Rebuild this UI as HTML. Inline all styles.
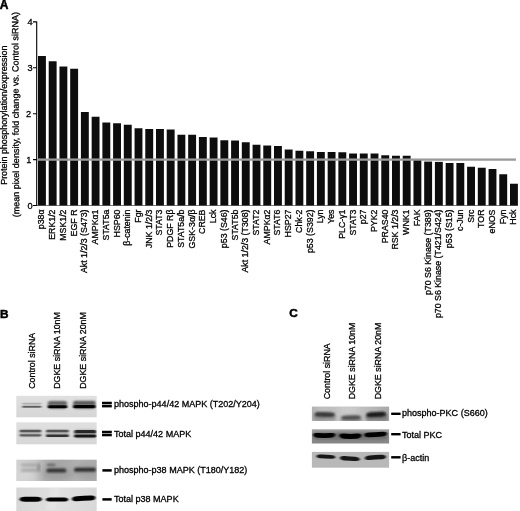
<!DOCTYPE html>
<html><head><meta charset="utf-8"><title>Figure</title>
<style>
html,body{margin:0;padding:0;background:#fff;}
body{width:520px;height:511px;overflow:hidden;position:relative;font-family:"Liberation Sans",sans-serif;}
svg{position:absolute;left:0;top:0;display:block;}
text{font-family:"Liberation Sans",sans-serif;fill:#000;stroke:#000;stroke-width:0.3px;}
.pl text{stroke-width:0.5px;}
</style></head><body>
<svg width="520" height="511" viewBox="0 0 520 511">
<defs>
<filter id="b1" x="-20%" y="-200%" width="140%" height="500%"><feGaussianBlur stdDeviation="1.1 0.7"/></filter>
<filter id="b2" x="-20%" y="-200%" width="140%" height="500%"><feGaussianBlur stdDeviation="1.3 0.85"/></filter>
<filter id="b3" x="-30%" y="-100%" width="160%" height="300%"><feGaussianBlur stdDeviation="4 3"/></filter>
<filter id="bt" x="-5%" y="-5%" width="110%" height="110%"><feGaussianBlur stdDeviation="0.35"/></filter>
<filter id="be" x="-3%" y="-8%" width="106%" height="116%"><feGaussianBlur stdDeviation="0.4"/></filter>
<linearGradient id="g1" x1="0" y1="0" x2="0" y2="1"><stop offset="0" stop-color="#e0e0e0"/><stop offset="1" stop-color="#d6d6d6"/></linearGradient>
<linearGradient id="g3" x1="0" y1="0" x2="1" y2="0"><stop offset="0" stop-color="#d2d2d2"/><stop offset="0.22" stop-color="#c8c8c8"/><stop offset="0.36" stop-color="#b2b2b2"/><stop offset="0.75" stop-color="#b6b6b6"/><stop offset="1" stop-color="#acacac"/></linearGradient>
<linearGradient id="g4" x1="0" y1="0" x2="1" y2="0"><stop offset="0" stop-color="#d6d6d6"/><stop offset="0.5" stop-color="#e0e0e0"/><stop offset="1" stop-color="#d8d8d8"/></linearGradient>
<linearGradient id="gc1" x1="0" y1="0" x2="1" y2="0"><stop offset="0" stop-color="#b0b0b0"/><stop offset="0.4" stop-color="#c6c6c6"/><stop offset="0.7" stop-color="#bcbcbc"/><stop offset="1" stop-color="#a8a8a8"/></linearGradient>
<filter id="b15" x="-20%" y="-200%" width="140%" height="500%"><feGaussianBlur stdDeviation="1.2 0.62"/></filter>
<linearGradient id="gc2" x1="0" y1="0" x2="0" y2="1"><stop offset="0" stop-color="#a2a2a2"/><stop offset="0.45" stop-color="#909090"/><stop offset="1" stop-color="#868686"/></linearGradient>
</defs>

<g filter="url(#bt)">
<g class="pl">
<text x="-0.3" y="8.6" font-size="12" font-weight="bold">A</text>
<text x="0" y="317.5" font-size="11.8" font-weight="bold">B</text>
<text x="289.3" y="317.1" font-size="11.8" font-weight="bold">C</text>
</g><g>
<text transform="translate(7.4,115.2) rotate(-90)" text-anchor="middle" font-size="9" textLength="139.3">Protein phosphorylation/expression</text>
<text transform="translate(18.7,114.6) rotate(-90.28)" text-anchor="middle" font-size="9" textLength="205.3">(mean pixel density, fold change vs. Control siRNA)</text>
<path d="M36.7 21.4 V205.9 M33 21.9 H36.7 M33 67.8 H36.7 M33 113.7 H36.7 M33 159.6 H36.7 M33 205.5 H36.7" stroke="#000" stroke-width="1.1" fill="none"/>
<path d="M36.7 205.5 H518" stroke="#000" stroke-width="0.7" opacity="0.75" fill="none"/>
<text x="32.60" y="25.05" text-anchor="end" font-size="9.2">4</text>
<text x="32.60" y="70.95" text-anchor="end" font-size="9.2">3</text>
<text x="31.10" y="116.85" text-anchor="end" font-size="9.2">2</text>
<text x="31.40" y="162.75" text-anchor="end" font-size="9.2">1</text>
<text x="32.50" y="208.65" text-anchor="end" font-size="9.2">0</text>
<rect x="38.00" y="56.00" width="7.90" height="149.40" fill="#111"/>
<rect x="48.73" y="61.25" width="7.90" height="144.15" fill="#111"/>
<rect x="59.45" y="66.50" width="7.90" height="138.90" fill="#111"/>
<rect x="70.18" y="68.75" width="7.90" height="136.65" fill="#111"/>
<rect x="80.91" y="112.00" width="7.90" height="93.40" fill="#111"/>
<rect x="91.64" y="116.75" width="7.90" height="88.65" fill="#111"/>
<rect x="102.36" y="122.50" width="7.90" height="82.90" fill="#111"/>
<rect x="113.09" y="123.25" width="7.90" height="82.15" fill="#111"/>
<rect x="123.82" y="124.75" width="7.90" height="80.65" fill="#111"/>
<rect x="134.55" y="128.25" width="7.90" height="77.15" fill="#111"/>
<rect x="145.27" y="129.00" width="7.90" height="76.40" fill="#111"/>
<rect x="156.00" y="129.00" width="7.90" height="76.40" fill="#111"/>
<rect x="166.73" y="129.50" width="7.90" height="75.90" fill="#111"/>
<rect x="177.45" y="134.75" width="7.90" height="70.65" fill="#111"/>
<rect x="188.18" y="134.75" width="7.90" height="70.65" fill="#111"/>
<rect x="198.91" y="137.00" width="7.90" height="68.40" fill="#111"/>
<rect x="209.64" y="137.50" width="7.90" height="67.90" fill="#111"/>
<rect x="220.36" y="140.25" width="7.90" height="65.15" fill="#111"/>
<rect x="231.09" y="140.50" width="7.90" height="64.90" fill="#111"/>
<rect x="241.82" y="142.25" width="7.90" height="63.15" fill="#111"/>
<rect x="252.55" y="144.75" width="7.90" height="60.65" fill="#111"/>
<rect x="263.27" y="145.50" width="7.90" height="59.90" fill="#111"/>
<rect x="274.00" y="146.00" width="7.90" height="59.40" fill="#111"/>
<rect x="284.73" y="149.50" width="7.90" height="55.90" fill="#111"/>
<rect x="295.45" y="150.75" width="7.90" height="54.65" fill="#111"/>
<rect x="306.18" y="151.25" width="7.90" height="54.15" fill="#111"/>
<rect x="316.91" y="152.00" width="7.90" height="53.40" fill="#111"/>
<rect x="327.64" y="152.00" width="7.90" height="53.40" fill="#111"/>
<rect x="338.36" y="152.25" width="7.90" height="53.15" fill="#111"/>
<rect x="349.09" y="153.50" width="7.90" height="51.90" fill="#111"/>
<rect x="359.82" y="153.50" width="7.90" height="51.90" fill="#111"/>
<rect x="370.55" y="153.50" width="7.90" height="51.90" fill="#111"/>
<rect x="381.27" y="155.25" width="7.90" height="50.15" fill="#111"/>
<rect x="392.00" y="155.75" width="7.90" height="49.65" fill="#111"/>
<rect x="402.73" y="155.75" width="7.90" height="49.65" fill="#111"/>
<rect x="413.45" y="160.00" width="7.90" height="45.40" fill="#111"/>
<rect x="424.18" y="161.60" width="7.90" height="43.80" fill="#111"/>
<rect x="434.91" y="161.90" width="7.90" height="43.50" fill="#111"/>
<rect x="445.64" y="163.00" width="7.90" height="42.40" fill="#111"/>
<rect x="456.36" y="163.00" width="7.90" height="42.40" fill="#111"/>
<rect x="467.09" y="166.75" width="7.90" height="38.65" fill="#111"/>
<rect x="477.82" y="167.75" width="7.90" height="37.65" fill="#111"/>
<rect x="488.55" y="169.00" width="7.90" height="36.40" fill="#111"/>
<rect x="499.27" y="174.25" width="7.90" height="31.15" fill="#111"/>
<rect x="510.00" y="183.75" width="7.90" height="21.65" fill="#111"/>
<rect x="37.3" y="158.45" width="478.6" height="2.3" fill="#9a9a9a"/>
<text transform="translate(44.45,209.5) rotate(-90)" text-anchor="end" font-size="8.80">p38α</text>
<text transform="translate(55.18,209.5) rotate(-90)" text-anchor="end" font-size="8.80">ERK1/2</text>
<text transform="translate(65.90,209.5) rotate(-90)" text-anchor="end" font-size="8.80">MSK1/2</text>
<text transform="translate(76.63,209.5) rotate(-90)" text-anchor="end" font-size="8.80">EGF R</text>
<text transform="translate(87.36,209.5) rotate(-90)" text-anchor="end" font-size="8.80">Akt 1/2/3 (S473)</text>
<text transform="translate(98.09,209.5) rotate(-90)" text-anchor="end" font-size="8.80">AMPKα1</text>
<text transform="translate(108.81,209.5) rotate(-90)" text-anchor="end" font-size="8.80">STAT5a</text>
<text transform="translate(119.54,209.5) rotate(-90)" text-anchor="end" font-size="8.80">HSP60</text>
<text transform="translate(130.27,209.5) rotate(-90)" text-anchor="end" font-size="8.80">β-catenin</text>
<text transform="translate(141.00,209.5) rotate(-90)" text-anchor="end" font-size="8.80">Fgr</text>
<text transform="translate(151.72,209.5) rotate(-90)" text-anchor="end" font-size="8.80">JNK 1/2/3</text>
<text transform="translate(162.45,209.5) rotate(-90)" text-anchor="end" font-size="8.80">STAT3</text>
<text transform="translate(173.18,209.5) rotate(-90)" text-anchor="end" font-size="8.80">PDGF Rβ</text>
<text transform="translate(183.90,209.5) rotate(-90)" text-anchor="end" font-size="8.80">STAT5a/b</text>
<text transform="translate(194.63,209.5) rotate(-90)" text-anchor="end" font-size="8.80">GSK-3α/β</text>
<text transform="translate(205.36,209.5) rotate(-90)" text-anchor="end" font-size="8.80">CREB</text>
<text transform="translate(216.09,209.5) rotate(-90)" text-anchor="end" font-size="8.80">Lck</text>
<text transform="translate(226.81,209.5) rotate(-90)" text-anchor="end" font-size="8.80">p53 (S46)</text>
<text transform="translate(237.54,209.5) rotate(-90)" text-anchor="end" font-size="8.80">STAT5b</text>
<text transform="translate(248.27,209.5) rotate(-90)" text-anchor="end" font-size="8.80">Akt 1/2/3 (T308)</text>
<text transform="translate(259.00,209.5) rotate(-90)" text-anchor="end" font-size="8.80">STAT2</text>
<text transform="translate(269.72,209.5) rotate(-90)" text-anchor="end" font-size="8.80">AMPKα2</text>
<text transform="translate(280.45,209.5) rotate(-90)" text-anchor="end" font-size="8.80">STAT6</text>
<text transform="translate(291.18,209.5) rotate(-90)" text-anchor="end" font-size="8.80">HSP27</text>
<text transform="translate(301.90,209.5) rotate(-90)" text-anchor="end" font-size="8.80">Chk-2</text>
<text transform="translate(312.63,209.5) rotate(-90)" text-anchor="end" font-size="8.80">p53 (S392)</text>
<text transform="translate(323.36,209.5) rotate(-90)" text-anchor="end" font-size="8.80">Lyn</text>
<text transform="translate(334.09,209.5) rotate(-90)" text-anchor="end" font-size="8.80">Yes</text>
<text transform="translate(344.81,209.5) rotate(-90)" text-anchor="end" font-size="8.80">PLC-γ1</text>
<text transform="translate(355.54,209.5) rotate(-90)" text-anchor="end" font-size="8.80">STAT3</text>
<text transform="translate(366.27,209.5) rotate(-90)" text-anchor="end" font-size="8.80">p27</text>
<text transform="translate(377.00,209.5) rotate(-90)" text-anchor="end" font-size="8.80">PYK2</text>
<text transform="translate(387.72,209.5) rotate(-90)" text-anchor="end" font-size="8.80">PRAS40</text>
<text transform="translate(398.45,209.5) rotate(-90)" text-anchor="end" font-size="8.80">RSK 1/2/3</text>
<text transform="translate(409.18,209.5) rotate(-90)" text-anchor="end" font-size="8.80">WNK1</text>
<text transform="translate(419.90,209.5) rotate(-90)" text-anchor="end" font-size="8.80">FAK</text>
<text transform="translate(430.63,209.5) rotate(-90)" text-anchor="end" font-size="8.80">p70 S6 Kinase (T389)</text>
<text transform="translate(441.36,209.5) rotate(-90)" text-anchor="end" font-size="8.80">p70 S6 Kinase (T421/S424)</text>
<text transform="translate(452.09,209.5) rotate(-90)" text-anchor="end" font-size="8.80">p53 (S15)</text>
<text transform="translate(462.81,209.5) rotate(-90)" text-anchor="end" font-size="8.80">c-Jun</text>
<text transform="translate(473.54,209.5) rotate(-90)" text-anchor="end" font-size="8.80">Src</text>
<text transform="translate(484.27,209.5) rotate(-90)" text-anchor="end" font-size="8.80">TOR</text>
<text transform="translate(495.00,209.5) rotate(-90)" text-anchor="end" font-size="8.80">eNOS</text>
<text transform="translate(505.72,209.5) rotate(-90)" text-anchor="end" font-size="8.80">Fyn</text>
<text transform="translate(516.45,209.5) rotate(-90)" text-anchor="end" font-size="8.80">Hck</text>
<text transform="translate(34.70,388.8) rotate(-90)" font-size="8.85">Control siRNA</text>
<text transform="translate(59.50,388.8) rotate(-90)" font-size="8.85">DGKE siRNA 10nM</text>
<text transform="translate(85.70,388.8) rotate(-90)" font-size="8.85">DGKE siRNA 20nM</text>
<text transform="translate(329.90,399.3) rotate(-90)" font-size="8.85">Control siRNA</text>
<text transform="translate(354.70,399.3) rotate(-90)" font-size="8.85">DGKE siRNA 10nM</text>
<text transform="translate(380.70,399.3) rotate(-90)" font-size="8.85">DGKE siRNA 20nM</text>
<text x="114" y="407.00" font-size="9.03">phospho-p44/42 MAPK (T202/Y204)</text>
<text x="114" y="437.10" font-size="9.03">Total p44/42 MAPK</text>
<text x="114" y="473.00" font-size="9.03">phospho-p38 MAPK (T180/Y182)</text>
<text x="114" y="501.90" font-size="9.03">Total p38 MAPK</text>
<text x="402" y="416.40" font-size="9.03">phospho-PKC (S660)</text>
<text x="402" y="437.60" font-size="9.03">Total PKC</text>
<text x="402" y="460.50" font-size="9.03">β-actin</text>
</g></g>
<g filter="url(#bt)">
<rect x="102.00" y="401.75" width="9.80" height="2.50" fill="#000"/>
<rect x="102.00" y="404.90" width="9.80" height="2.50" fill="#000"/>
<rect x="102.00" y="430.75" width="9.80" height="2.50" fill="#000"/>
<rect x="102.00" y="433.80" width="9.80" height="2.50" fill="#000"/>
<rect x="102.40" y="469.15" width="9.30" height="2.50" fill="#000"/>
<rect x="102.40" y="498.15" width="9.30" height="2.50" fill="#000"/>
<rect x="391.20" y="412.60" width="9.40" height="2.40" fill="#000"/>
<rect x="391.20" y="433.00" width="9.40" height="2.40" fill="#000"/>
<rect x="391.20" y="456.10" width="9.40" height="2.40" fill="#000"/>
</g>
<clipPath id="k1"><rect x="16.30" y="395.80" width="80.40" height="21.50"/></clipPath>
<g filter="url(#be)"><rect x="16.30" y="395.80" width="80.40" height="21.50" fill="url(#g1)"/><g clip-path="url(#k1)">
<rect x="22.00" y="402.80" width="19.50" height="1.60" rx="0.80" fill="#8a8a8a" opacity="0.55" filter="url(#b1)"/>
<rect x="22.00" y="405.80" width="19.50" height="2.00" rx="1.00" fill="#4a4a4a" opacity="0.85" filter="url(#b1)"/>
<rect x="47.50" y="401.30" width="19.70" height="7.40" rx="3.70" fill="#444" opacity="0.60" filter="url(#b2)"/>
<rect x="48.20" y="401.70" width="18.70" height="2.00" rx="1.00" fill="#333" opacity="0.70" filter="url(#b2)"/>
<rect x="47.80" y="405.30" width="19.40" height="3.00" rx="1.50" fill="#000" opacity="1.00" filter="url(#b1)"/>
<rect x="72.80" y="401.30" width="23.00" height="7.40" rx="3.70" fill="#444" opacity="0.60" filter="url(#b2)"/>
<rect x="73.60" y="401.60" width="21.80" height="2.20" rx="1.10" fill="#2a2a2a" opacity="0.75" filter="url(#b2)"/>
<rect x="73.20" y="405.10" width="22.40" height="3.20" rx="1.60" fill="#000" opacity="1.00" filter="url(#b1)"/>
</g></g>
<clipPath id="k2"><rect x="16.30" y="422.30" width="80.40" height="22.00"/></clipPath>
<g filter="url(#be)"><rect x="16.30" y="422.30" width="80.40" height="22.00" fill="url(#g1)"/><g clip-path="url(#k2)">
<rect x="19.30" y="429.95" width="22.20" height="6.50" rx="3.25" fill="#777" opacity="0.35" filter="url(#b2)"/>
<rect x="19.60" y="429.80" width="21.70" height="2.40" rx="1.20" fill="#3a3a3a" opacity="0.80" filter="url(#b15)"/>
<rect x="19.60" y="434.20" width="21.70" height="2.20" rx="1.10" fill="#3a3a3a" opacity="0.75" filter="url(#b15)"/>
<rect x="45.70" y="430.00" width="23.30" height="6.80" rx="3.40" fill="#777" opacity="0.40" filter="url(#b2)"/>
<rect x="46.00" y="429.80" width="22.80" height="2.40" rx="1.20" fill="#3a3a3a" opacity="0.80" filter="url(#b15)"/>
<rect x="46.00" y="434.50" width="22.80" height="2.60" rx="1.30" fill="#222" opacity="0.90" filter="url(#b15)"/>
<rect x="74.00" y="430.20" width="22.50" height="7.20" rx="3.60" fill="#555" opacity="0.60" filter="url(#b2)"/>
<rect x="74.30" y="430.00" width="22.00" height="3.00" rx="1.50" fill="#1a1a1a" opacity="0.90" filter="url(#b15)"/>
<rect x="74.30" y="434.80" width="22.00" height="2.80" rx="1.40" fill="#111" opacity="0.95" filter="url(#b15)"/>
</g></g>
<clipPath id="k3"><rect x="16.30" y="459.70" width="80.40" height="21.30"/></clipPath>
<g filter="url(#be)"><rect x="16.30" y="459.70" width="80.40" height="21.30" fill="url(#g3)"/><g clip-path="url(#k3)">
<ellipse cx="58" cy="473" rx="16" ry="8" fill="#888" opacity="0.5" filter="url(#b3)"/>
<ellipse cx="86" cy="471" rx="12" ry="8" fill="#929292" opacity="0.5" filter="url(#b3)"/>
<ellipse cx="62" cy="460" rx="14" ry="2.5" fill="#8a8a8a" opacity="0.5" filter="url(#b3)"/>
<ellipse cx="26" cy="476" rx="10" ry="4" fill="#dedede" opacity="0.7" filter="url(#b3)"/>
<rect x="21.00" y="463.60" width="16.50" height="2.80" rx="1.40" fill="#7a7a7a" opacity="0.38" filter="url(#b2)"/>
<rect x="21.00" y="468.80" width="16.50" height="3.00" rx="1.50" fill="#7a7a7a" opacity="0.42" filter="url(#b2)"/>
<rect x="37.30" y="463.00" width="3.00" height="9.00" rx="4.50" fill="#6a6a6a" opacity="0.55" filter="url(#b2)"/>
<rect x="46.20" y="468.30" width="20.20" height="4.60" rx="2.30" fill="#555" opacity="0.50" filter="url(#b2)"/>
<rect x="46.80" y="468.90" width="19.20" height="3.00" rx="1.50" fill="#2a2a2a" opacity="0.95" filter="url(#b2)"/>
<rect x="46.80" y="463.80" width="8.60" height="2.20" rx="1.10" fill="#444" opacity="0.70" filter="url(#b2)"/>
<rect x="74.00" y="467.60" width="22.00" height="4.60" rx="2.30" fill="#555" opacity="0.50" filter="url(#b2)"/>
<rect x="74.30" y="468.20" width="21.30" height="3.00" rx="1.50" fill="#222" opacity="0.95" filter="url(#b2)"/>
</g></g>
<clipPath id="k4"><rect x="16.30" y="487.50" width="80.40" height="26.00"/></clipPath>
<g filter="url(#be)"><rect x="16.30" y="487.50" width="80.40" height="26.00" fill="url(#g4)"/><g clip-path="url(#k4)">
<rect x="50" y="486" width="6" height="26" fill="#f0f0f0" opacity="0.7" filter="url(#b3)" transform="rotate(14 53 499)"/>
<path d="M19.60 499.30 C19.90 497.43 22.10 496.80 24.60 496.80 L30.70 496.80 L36.80 496.80 C39.30 496.80 41.50 497.43 41.80 499.30 C41.50 501.18 39.30 501.80 36.80 501.80 L30.70 501.80 L24.60 501.80 C22.10 501.80 19.90 501.18 19.60 499.30 Z" fill="#000" opacity="1.00" filter="url(#b1)"/>
<path d="M45.80 499.50 C46.10 497.93 48.30 497.40 50.80 497.40 L57.10 497.40 L63.40 497.40 C65.90 497.40 68.10 497.93 68.40 499.50 C68.10 501.07 65.90 501.60 63.40 501.60 L57.10 501.60 L50.80 501.60 C48.30 501.60 46.10 501.07 45.80 499.50 Z" fill="#000" opacity="1.00" filter="url(#b1)"/>
<path d="M71.80 499.00 C72.10 497.12 74.30 496.23 76.80 496.23 L83.70 495.85 L90.60 495.47 C93.10 495.47 95.30 495.82 95.60 497.70 C95.30 499.57 93.10 500.47 90.60 500.47 L83.70 500.85 L76.80 501.23 C74.30 501.23 72.10 500.88 71.80 499.00 Z" fill="#000" opacity="1.00" filter="url(#b1)"/>
</g></g>
<clipPath id="q1"><rect x="311.90" y="406.60" width="77.20" height="14.40"/></clipPath>
<g filter="url(#be)"><rect x="311.90" y="406.60" width="77.20" height="14.40" fill="url(#gc1)"/><g clip-path="url(#q1)">
<ellipse cx="350" cy="410.5" rx="9" ry="3.5" fill="#d4d4d4" opacity="0.8" filter="url(#b3)"/>
<ellipse cx="322" cy="409" rx="8" ry="2.5" fill="#cfcfcf" opacity="0.7" filter="url(#b3)"/>
<rect x="313.50" y="414.00" width="22.50" height="7.00" rx="3.50" fill="#777" opacity="0.50" filter="url(#b2)"/>
<rect x="340.50" y="417.00" width="21.50" height="5.00" rx="2.50" fill="#777" opacity="0.50" filter="url(#b2)"/>
<rect x="365.50" y="413.50" width="22.50" height="8.00" rx="4.00" fill="#666" opacity="0.60" filter="url(#b2)"/>
<path d="M314.40 414.30 C314.70 412.50 316.90 412.00 319.40 412.00 L324.70 412.10 L330.00 412.20 C332.50 412.20 334.70 412.90 335.00 414.70 C334.70 416.50 332.50 417.00 330.00 417.00 L324.70 416.90 L319.40 416.80 C316.90 416.80 314.70 416.10 314.40 414.30 Z" fill="#2e2e2e" opacity="0.90" filter="url(#b2)"/>
<path d="M341.20 417.80 C341.50 416.15 343.70 415.47 346.20 415.47 L351.10 415.35 L356.00 415.23 C358.50 415.23 360.70 415.65 361.00 417.30 C360.70 418.95 358.50 419.63 356.00 419.63 L351.10 419.75 L346.20 419.87 C343.70 419.87 341.50 419.45 341.20 417.80 Z" fill="#3a3a3a" opacity="0.80" filter="url(#b2)"/>
<path d="M366.20 415.00 C366.50 413.12 368.70 412.28 371.20 412.28 L376.30 412.05 L381.40 411.82 C383.90 411.82 386.10 412.23 386.40 414.10 C386.10 415.98 383.90 416.82 381.40 416.82 L376.30 417.05 L371.20 417.28 C368.70 417.28 366.50 416.88 366.20 415.00 Z" fill="#141414" opacity="0.97" filter="url(#b2)"/>
</g></g>
<clipPath id="q2"><rect x="311.90" y="429.30" width="77.20" height="14.20"/></clipPath>
<g filter="url(#be)"><rect x="311.90" y="429.30" width="77.20" height="14.20" fill="url(#gc2)"/><g clip-path="url(#q2)">
<rect x="313.00" y="432.25" width="75.00" height="7.50" rx="3.75" fill="#555" opacity="0.50" filter="url(#b2)"/>
<path d="M313.20 434.70 C313.50 432.90 315.70 433.00 318.20 433.00 L324.30 433.30 L330.40 433.00 C332.90 433.00 335.10 432.90 335.40 434.70 C335.10 436.50 332.90 437.80 330.40 437.80 L324.30 438.10 L318.20 437.80 C315.70 437.80 313.50 436.50 313.20 434.70 Z" fill="#000" opacity="1.00" filter="url(#b1)"/>
<path d="M339.20 435.60 C339.50 433.65 341.70 433.62 344.20 433.62 L350.40 433.90 L356.60 433.62 C359.10 433.62 361.30 433.65 361.60 435.60 C361.30 437.55 359.10 438.82 356.60 438.82 L350.40 439.10 L344.20 438.82 C341.70 438.82 339.50 437.55 339.20 435.60 Z" fill="#000" opacity="1.00" filter="url(#b1)"/>
<path d="M364.20 435.00 C364.50 433.20 366.70 432.57 369.20 432.57 L375.60 432.30 L382.00 431.78 C384.50 431.78 386.70 431.80 387.00 433.60 C386.70 435.40 384.50 436.58 382.00 436.58 L375.60 437.10 L369.20 437.37 C366.70 437.37 364.50 436.80 364.20 435.00 Z" fill="#000" opacity="1.00" filter="url(#b1)"/>
</g></g>
<clipPath id="q3"><rect x="311.90" y="451.90" width="77.20" height="15.80"/></clipPath>
<g filter="url(#be)"><rect x="311.90" y="451.90" width="77.20" height="15.80" fill="#b8b8b8"/><g clip-path="url(#q3)">
<path d="M316.40 456.20 C316.70 454.77 318.90 454.56 321.40 454.56 L325.90 454.80 L330.40 455.04 C332.90 455.04 335.10 455.77 335.40 457.20 C335.10 458.62 332.90 458.84 330.40 458.84 L325.90 458.60 L321.40 458.36 C318.90 458.36 316.70 457.62 316.40 456.20 Z" fill="#0c0c0c" opacity="0.97" filter="url(#b1)"/>
<path d="M339.80 458.00 C340.10 456.35 342.30 456.10 344.80 456.10 L349.80 456.40 L354.80 456.70 C357.30 456.70 359.50 457.55 359.80 459.20 C359.50 460.85 357.30 461.10 354.80 461.10 L349.80 460.80 L344.80 460.50 C342.30 460.50 340.10 459.65 339.80 458.00 Z" fill="#0c0c0c" opacity="0.97" filter="url(#b1)"/>
<path d="M364.80 458.20 C365.10 456.55 367.30 455.50 369.80 455.50 L375.40 455.10 L381.00 454.87 C383.50 454.87 385.70 455.35 386.00 457.00 C385.70 458.65 383.50 459.27 381.00 459.27 L375.40 459.50 L369.80 459.90 C367.30 459.90 365.10 459.85 364.80 458.20 Z" fill="#0c0c0c" opacity="0.97" filter="url(#b1)"/>
</g></g>
</svg></body></html>
